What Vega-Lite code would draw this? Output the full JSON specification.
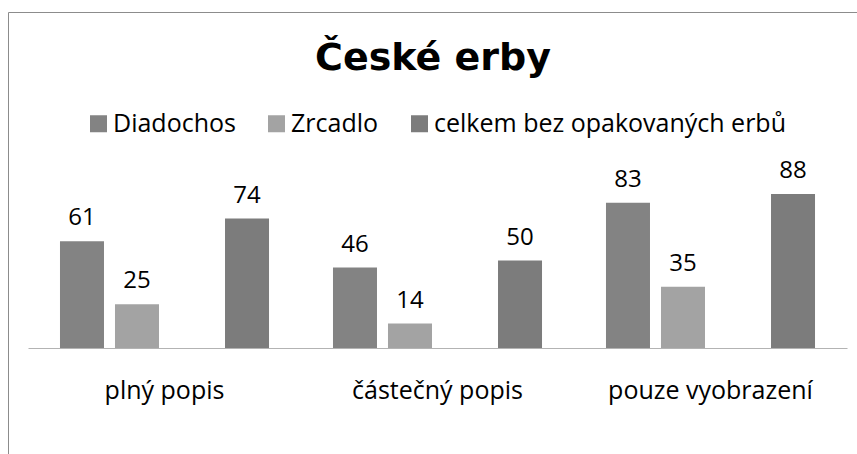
{
  "$schema": "https://vega.github.io/schema/vega-lite/v6.json",
  "autosize": "none",
  "padding": {"left": 8, "top": 12, "right": -1, "bottom": -1},
  "width": 850,
  "height": 443,
  "background": "white",
  "config": {
    "view": {"stroke": "#8c8c8c", "strokeWidth": 1},
    "font": "Open Sans"
  },
  "title": {
    "text": "České erby",
    "font": "DejaVu Sans",
    "fontSize": 38,
    "fontWeight": "bold",
    "color": "#000000",
    "anchor": "middle",
    "baseline": "alphabetic",
    "offset": -61,
    "dy": 35
  },
  "data": {
    "values": [
      {"kategorie": "plný popis", "serie": "Diadochos", "pocet": 61},
      {"kategorie": "plný popis", "serie": "Zrcadlo", "pocet": 25},
      {"kategorie": "plný popis", "serie": "celkem bez opakovaných erbů", "pocet": 74},
      {"kategorie": "částečný popis", "serie": "Diadochos", "pocet": 46},
      {"kategorie": "částečný popis", "serie": "Zrcadlo", "pocet": 14},
      {"kategorie": "částečný popis", "serie": "celkem bez opakovaných erbů", "pocet": 50},
      {"kategorie": "pouze vyobrazení", "serie": "Diadochos", "pocet": 83},
      {"kategorie": "pouze vyobrazení", "serie": "Zrcadlo", "pocet": 35},
      {"kategorie": "pouze vyobrazení", "serie": "celkem bez opakovaných erbů", "pocet": 88}
    ]
  },
  "encoding": {
    "x": {
      "field": "kategorie",
      "type": "nominal",
      "sort": null,
      "scale": {"range": [20, 839], "paddingInner": 0.194, "paddingOuter": 0.097},
      "axis": {
        "title": null,
        "offset": -107,
        "domainColor": "#b3b3b3",
        "domainWidth": 1,
        "ticks": false,
        "tickSize": 0,
        "labelAngle": 0,
        "labelFont": "Open Sans",
        "labelFontSize": 25,
        "labelColor": "#000000",
        "labelBaseline": "alphabetic",
        "labelPadding": 50,
        "labelLimit": 0
      }
    },
    "xOffset": {
      "field": "serie",
      "type": "nominal",
      "scale": {
        "domain": ["Diadochos", "Zrcadlo", "mezera", "celkem bez opakovaných erbů"],
        "paddingInner": 0.2,
        "paddingOuter": 0.1
      }
    },
    "y": {
      "field": "pocet",
      "type": "quantitative",
      "scale": {"domain": [0, 100], "range": [336, 161], "nice": false, "zero": true},
      "axis": null
    }
  },
  "layer": [
    {
      "mark": {"type": "bar"},
      "encoding": {
        "color": {
          "field": "serie",
          "type": "nominal",
          "scale": {
            "domain": ["Diadochos", "Zrcadlo", "celkem bez opakovaných erbů"],
            "range": ["#838383", "#a3a3a3", "#7c7c7c"]
          },
          "legend": {
            "title": null,
            "orient": "none",
            "legendX": 78,
            "legendY": 99,
            "direction": "horizontal",
            "padding": 0,
            "symbolType": "square",
            "symbolSize": 289,
            "symbolStrokeWidth": 0,
            "symbolOpacity": 1,
            "labelFont": "Open Sans",
            "labelFontSize": 25,
            "labelColor": "#000000",
            "labelOffset": 2,
            "labelLimit": 0,
            "columnPadding": 28
          }
        }
      }
    },
    {
      "mark": {
        "type": "text",
        "baseline": "alphabetic",
        "dy": -16,
        "font": "Open Sans",
        "fontSize": 24,
        "color": "#000000"
      },
      "encoding": {
        "text": {"field": "pocet", "type": "quantitative"}
      }
    }
  ]
}
